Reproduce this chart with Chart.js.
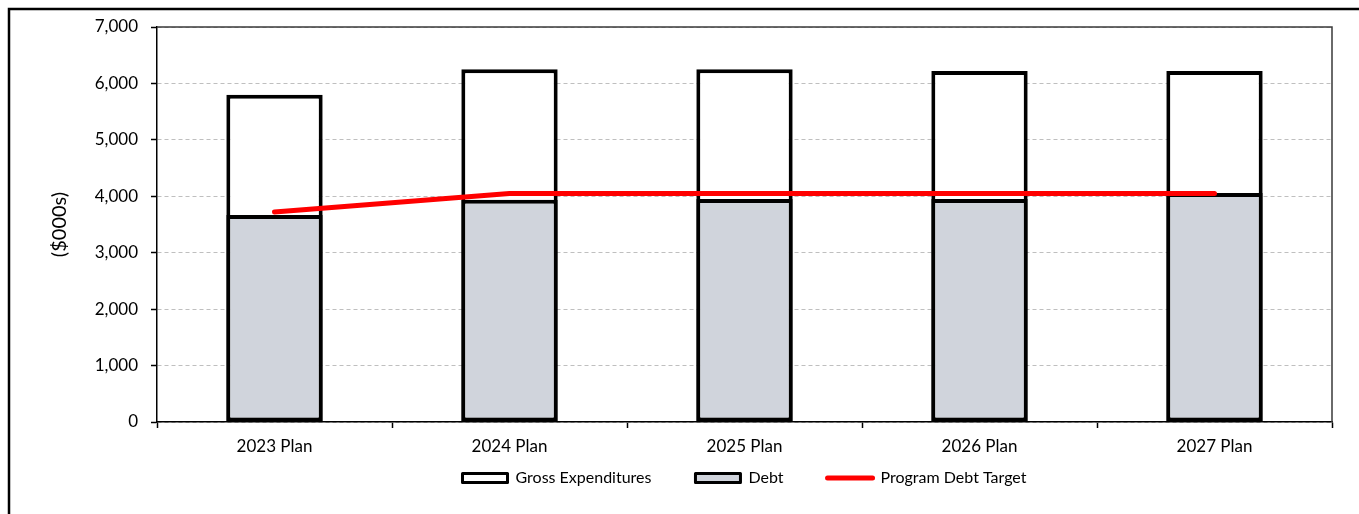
<!DOCTYPE html>
<html>
<head>
<meta charset="utf-8">
<script src="https://cdn.jsdelivr.net/npm/chart.js@4/dist/chart.umd.min.js"></script>
<style>
  html, body { margin: 0; padding: 0; background: #fff; }
  #wrap { width: 1359px; height: 514px; position: relative; }
</style>
</head>
<body>
<div id="wrap"><canvas id="chart" width="1359" height="514"></canvas></div>
<script>
// Plan years and values ($000s)
const categories = ['2023 Plan', '2024 Plan', '2025 Plan', '2026 Plan', '2027 Plan'];
const grossExpenditures = [5800, 6250, 6250, 6220, 6220];
const debt = [3670, 3940, 3950, 3950, 4060];
const programDebtTarget = [3720, 4050, 4050, 4050, 4050];
const yTicks = [0, 1000, 2000, 3000, 4000, 5000, 6000, 7000];

const FONT = 'Lato, "Open Sans", sans-serif';
const DEBT_FILL = '#D0D4DC';

// Outer frame of the chart and the plot-area box
const framePlugin = {
  id: 'frame',
  afterLayout(chart) {
    // the category axis reserves only its tick marks in the layout;
    // let its label band reach down to the legend so labels are not clipped
    const x = chart.scales.x;
    x.bottom = x.top + 38;
  },
  beforeDraw(chart) {
    const ctx = chart.ctx;
    ctx.save();
    ctx.strokeStyle = '#000';
    ctx.lineWidth = 2.5;
    ctx.beginPath();
    ctx.moveTo(9, chart.height + 5);
    ctx.lineTo(9, 9);
    ctx.lineTo(chart.width + 5, 9);
    ctx.stroke();
    ctx.restore();
  },
  beforeDatasetsDraw(chart) {
    const {ctx, chartArea: a} = chart;
    ctx.save();
    ctx.strokeStyle = '#3a3a3a';
    ctx.lineWidth = 1.5;
    ctx.beginPath();
    ctx.moveTo(a.left, a.top);
    ctx.lineTo(a.right, a.top);
    ctx.lineTo(a.right, a.bottom);
    ctx.stroke();
    ctx.restore();
  }
};

new Chart(document.getElementById('chart'), {
  type: 'bar',
  data: {
    labels: categories,
    datasets: [
      {
        type: 'line',
        label: 'Program Debt Target',
        data: programDebtTarget,
        borderColor: '#FF0000',
        backgroundColor: '#FF0000',
        borderWidth: 5,
        borderCapStyle: 'round',
        borderJoinStyle: 'round',
        pointRadius: 0,
        tension: 0,
        order: 0
      },
      {
        label: 'Debt',
        data: debt,
        backgroundColor: DEBT_FILL,
        borderColor: '#000',
        borderWidth: 4,
        borderSkipped: false,
        order: 1
      },
      {
        label: 'Gross Expenditures',
        data: grossExpenditures,
        backgroundColor: '#FFFFFF',
        borderColor: '#000',
        borderWidth: 4,
        borderSkipped: false,
        order: 2
      }
    ]
  },
  options: {
    responsive: false,
    animation: false,
    datasets: {
      bar: { barPercentage: 0.41, categoryPercentage: 1.0 }
    },
    layout: { padding: { left: 0, top: 27, right: 27, bottom: 18 } },
    plugins: {
      tooltip: { enabled: false },
      legend: {
        position: 'bottom',
        fullSize: false,
        align: 'center',
        labels: {
          usePointStyle: true,
          pointStyleWidth: 45,
          boxHeight: 9,
          padding: 44,
          color: '#000',
          font: { family: FONT, size: 16 },
          generateLabels(chart) {
            const ds = chart.data.datasets;
            const pick = (i, extra) => Object.assign({
              text: ds[i].label,
              datasetIndex: i,
              hidden: false,
              lineJoin: 'round',
              rotation: 0
            }, extra);
            return [
              pick(2, { fillStyle: '#FFFFFF', strokeStyle: '#000', lineWidth: 3, pointStyle: 'rect' }),
              pick(1, { fillStyle: DEBT_FILL, strokeStyle: '#000', lineWidth: 3, pointStyle: 'rect' }),
              pick(0, { fillStyle: '#FF0000', strokeStyle: '#FF0000', lineWidth: 5, pointStyle: 'line', lineCap: 'round' })
            ];
          }
        }
      }
    },
    scales: {
      x: {
        stacked: true,
        afterFit(scale) { scale.height = 4; },
        grid: {
          display: true,
          offset: true,
          drawOnChartArea: false,
          drawTicks: true,
          tickLength: 6,
          tickColor: '#000',
          tickWidth: 1.5
        },
        border: { display: true, color: '#000', width: 1.5 },
        ticks: {
          color: '#000',
          padding: 8,
          autoSkip: false,
          maxRotation: 0,
          font: { family: FONT, size: 17 }
        }
      },
      y: {
        stacked: false,
        min: 0,
        max: 7000,
        afterFit(scale) { scale.width = 157; },
        afterBuildTicks(scale) { scale.ticks = yTicks.map(v => ({ value: v })); },
        grid: {
          color: '#BFBFBF',
          lineWidth: 1,
          tickLength: 6,
          tickColor: '#000',
          tickWidth: 1.5
        },
        border: { display: true, color: '#000', width: 1.5, dash: [4, 3] },
        ticks: {
          color: '#000',
          padding: 13,
          font: { family: FONT, size: 17 },
          callback: v => Number(v).toLocaleString('en-US')
        },
        title: {
          display: true,
          text: '($000s)',
          color: '#000',
          font: { family: FONT, size: 20 },
          padding: { top: 48, bottom: 0 }
        }
      }
    }
  },
  plugins: [framePlugin]
});
</script>
</body>
</html>
